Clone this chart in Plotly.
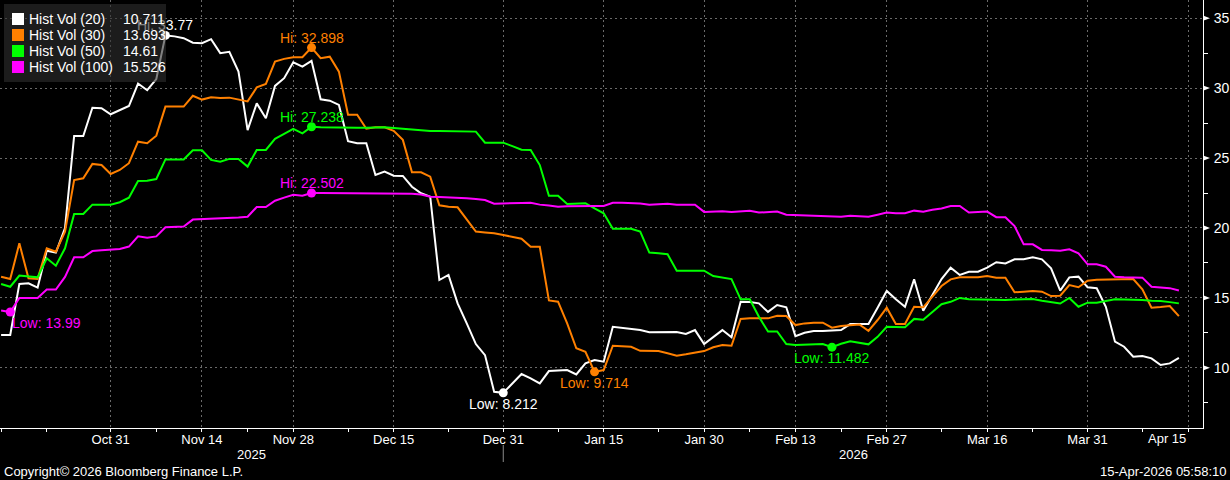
import plotly.graph_objects as go
import pandas as pd

# ---------------- data ----------------
start_date = "2025-10-15"
n_points = 130

hv20 = [12.35, 12.35, 16.0, 16.05, 15.74, 18.38, 18.24, 20.0, 26.58, 26.58,
        28.6, 28.56, 28.13, 28.44, 28.72, 30.33, 29.85, 30.65, 33.77, 33.7,
        33.57, 33.25, 33.21, 33.5, 32.5, 32.6, 31.18, 27.0, 28.91, 27.85,
        30.16, 30.71, 31.85, 31.54, 31.95, 29.2, 29.1, 28.8, 26.2, 26.06,
        26.06, 23.79, 24.03, 23.74, 23.72, 22.95, 22.48, 22.24, 16.28, 16.64,
        14.61, 13.18, 11.7, 10.91, 8.29, 8.212, 8.9, 9.56, 9.25, 8.89,
        9.77, 9.8, 9.84, 9.53, 10.32, 10.56, 10.44, 12.94, 12.85, 12.75,
        12.7, 12.54, 12.54, 12.54, 12.56, 12.42, 12.7, 11.7, 12.22, 12.7,
        12.18, 14.73, 14.7, 14.61, 14.0, 14.49, 14.33, 12.27, 12.51, 12.63,
        12.63, 12.65, 12.7, 13.13, 13.13, 13.13, 14.3, 15.5, 14.9, 14.37,
        16.33, 14.08, 15.2, 16.35, 17.16, 16.64, 16.87, 16.87, 17.16, 17.55,
        17.47, 17.76, 17.76, 17.9, 17.76, 17.12, 15.52, 16.47, 16.52, 15.76,
        15.69, 14.37, 11.87, 11.51, 10.8, 10.84, 10.68, 10.2, 10.32, 10.711]

hv30 = [16.52, 16.35, 18.9, 16.4, 16.35, 18.55, 18.3, 19.74, 23.43, 23.55,
        24.58, 24.5, 23.86, 24.15, 24.63, 26.17, 26.06, 26.6, 28.68, 28.68,
        28.68, 29.45, 29.18, 29.35, 29.3, 29.32, 29.18, 29.05, 30.05, 30.3,
        31.9, 32.09, 32.21, 32.21, 32.898, 32.14, 32.25, 31.18, 28.1, 28.1,
        27.1, 27.2, 27.2, 26.95, 26.3, 23.98, 23.98, 23.67, 21.62, 21.52,
        21.48, 20.57, 19.74, 19.68, 19.62, 19.5, 19.35, 19.23, 18.66, 18.66,
        14.82, 14.73, 13.18, 11.4, 11.15, 9.714, 9.84, 11.58, 11.55, 11.51,
        11.22, 11.2, 11.2, 11.04, 10.87, 10.97, 11.08, 11.2, 11.47, 11.63,
        11.58, 13.49, 13.54, 13.54, 13.54, 13.73, 13.7, 13.06, 13.18, 13.22,
        13.23, 12.87, 13.0, 13.05, 13.1, 12.65, 13.42, 14.3, 13.13, 13.13,
        14.37, 14.33, 15.1, 15.85, 16.33, 16.47, 16.47, 16.47, 16.57, 16.45,
        16.45, 15.4, 15.45, 15.49, 15.45, 15.13, 15.16, 15.92, 15.76, 16.23,
        16.3, 16.3, 16.32, 16.33, 16.35, 15.62, 14.3, 14.35, 14.42, 13.693]

hv50 = [16.0, 15.8, 16.6, 16.55, 16.47, 17.83, 17.3, 18.55, 21.0, 21.0,
        21.67, 21.67, 21.67, 21.84, 22.17, 23.36, 23.38, 23.5, 24.9, 24.9,
        24.9, 25.55, 25.55, 24.87, 24.74, 24.94, 24.94, 24.39, 25.58, 25.58,
        26.37, 26.72, 27.08, 26.77, 27.238, 27.2, 27.18, 27.17, 27.17, 27.17,
        27.17, 27.2, 27.2, 27.15, 27.1, 27.0, 26.96, 26.93, 26.93, 26.92,
        26.9, 26.9, 26.89, 26.1, 26.1, 26.1, 25.85, 25.6, 25.58, 24.5,
        22.3, 22.3, 21.72, 21.75, 21.77, 21.4, 21.05, 19.95, 19.95, 19.95,
        19.74, 18.24, 18.2, 18.12, 16.95, 16.95, 16.95, 16.95, 16.56, 16.45,
        16.35, 14.9, 14.9, 13.65, 12.6, 12.6, 11.7, 11.63, 11.65, 11.72,
        11.7, 11.482, 11.72, 11.9, 11.78, 11.68, 12.22, 12.94, 12.92, 12.9,
        13.5, 13.44, 14.0, 14.55, 14.72, 15.0, 14.9, 14.88, 14.85, 14.85,
        14.85, 14.88, 14.92, 14.92, 14.8, 14.7, 14.6, 15.0, 14.37, 14.66,
        14.66, 14.78, 14.9, 14.88, 14.88, 14.85, 14.8, 14.78, 14.7, 14.61]

hv100 = [14.1, 13.99, 15.0, 15.0, 15.0, 15.6, 15.6, 16.5, 17.9, 17.9,
         18.35, 18.4, 18.43, 18.5, 18.67, 19.4, 19.3, 19.4, 20.05, 20.1,
         20.1, 20.6, 20.62, 20.64, 20.66, 20.7, 20.75, 20.8, 21.5, 21.5,
         21.95, 22.17, 22.38, 22.3, 22.502, 22.5, 22.5, 22.5, 22.5, 22.5,
         22.5, 22.5, 22.5, 22.5, 22.5, 22.45, 22.4, 22.24, 22.22, 22.2,
         22.17, 22.12, 22.07, 22.0, 21.74, 21.74, 21.77, 21.78, 21.8, 21.67,
         21.6, 21.52, 21.55, 21.57, 21.6, 21.58, 21.57, 21.8, 21.8, 21.8,
         21.75, 21.67, 21.7, 21.74, 21.67, 21.67, 21.67, 21.15, 21.17, 21.2,
         21.15, 21.2, 21.23, 21.1, 21.15, 21.17, 20.95, 20.93, 20.9, 20.87,
         20.82, 20.8, 20.8, 20.88, 20.84, 20.8, 20.95, 21.1, 21.05, 21.05,
         21.24, 21.17, 21.3, 21.4, 21.57, 21.57, 21.1, 21.12, 21.17, 20.77,
         20.77, 20.14, 18.83, 18.83, 18.43, 18.4, 18.38, 18.48, 18.19, 17.4,
         17.4, 17.23, 16.52, 16.48, 16.45, 16.45, 15.8, 15.75, 15.7, 15.526]

series_names = ["Hist Vol (20)", "Hist Vol (30)", "Hist Vol (50)", "Hist Vol (100)"]
series_colors = ["#ffffff", "#ff8000", "#00ff00", "#ff00ff"]

tick_dates = ["2025-10-31", "2025-11-14", "2025-11-28", "2025-12-15", "2025-12-31",
              "2026-01-15", "2026-01-30", "2026-02-13", "2026-02-27", "2026-03-16",
              "2026-03-31", "2026-04-15"]
tick_labels = ["Oct 31", "Nov 14", "Nov 28", "Dec 15", "Dec 31", "Jan 15", "Jan 30",
               "Feb 13", "Feb 27", "Mar 16", "Mar 31", "Apr 15"]
minor_dates = ["2025-10-15", "2025-10-22", "2025-11-07", "2025-11-21", "2025-12-08",
               "2025-12-23", "2026-01-08", "2026-01-23", "2026-02-06", "2026-02-20",
               "2026-03-09", "2026-03-23", "2026-04-08"]
year_labels = ["2025", "2026"]
year_break = "2025-12-31"
y_ticks = [10, 15, 20, 25, 30, 35]
y_minor = [7.5, 12.5, 17.5, 22.5, 27.5, 32.5]
x_range = ["2025-10-14 21:07", "2026-04-16 15:22"]
y_range = [5.7, 36.3]

# ---------------- figure ----------------
FONT = "Liberation Sans, Arial, sans-serif"
W, H = 1203.0, 428.0  # plot area in px


def px(x):
    return x / W


def py(y):
    return 1 - y / H


dates = pd.bdate_range(start_date, periods=n_points)
all_series = [hv20, hv30, hv50, hv100]

fig = go.Figure()
for name, col, vals in zip(series_names, series_colors, all_series):
    fig.add_trace(go.Scatter(x=dates, y=vals, mode="lines", name=name,
                             line=dict(color=col, width=2), showlegend=False,
                             hoverinfo="skip"))

annotations = []
shapes = []

# hi / low markers (traces) with labels (annotations, drawn before legend box)
for name, col, vals in zip(series_names, series_colors, all_series):
    imax = max(range(len(vals)), key=lambda i: vals[i])
    imin = min(range(len(vals)), key=lambda i: vals[i])
    fig.add_trace(go.Scatter(
        x=[dates[imax], dates[imin]], y=[vals[imax], vals[imin]], mode="markers",
        marker=dict(color=col, size=9), showlegend=False, hoverinfo="skip",
        cliponaxis=False))
    for idx, kind in ((imax, "Hi"), (imin, "Low")):
        edge = idx < 5
        annotations.append(dict(
            xref="x", yref="y", x=dates[idx], y=vals[idx],
            xanchor="left" if edge else "center", yanchor="middle",
            yshift=10 if kind == "Hi" else -11, showarrow=False,
            text=f"{kind}: {vals[idx]:g}",
            font=dict(color=col, size=14, family=FONT)))

# legend box (semi-transparent, drawn over the labels)
annotations.append(dict(xref="paper", yref="paper", x=px(4), y=py(4),
                        xanchor="left", yanchor="top", showarrow=False,
                        text=" ", width=162, height=78, borderpad=0, borderwidth=0,
                        bgcolor="rgba(47,47,47,0.6)"))
row_y = [19, 35, 51, 67]
for ry, name, col, vals in zip(row_y, series_names, series_colors, all_series):
    annotations.append(dict(xref="paper", yref="paper", x=px(12), y=py(ry),
                            xanchor="left", yanchor="middle", showarrow=False,
                            text=" ", width=12, height=12, borderpad=0, borderwidth=0,
                            bgcolor=col, font=dict(size=8)))
    annotations.append(dict(xref="paper", yref="paper", x=px(27), y=py(ry),
                            xanchor="left", yanchor="middle", showarrow=False,
                            text=name, font=dict(color="white", size=14, family=FONT)))
    annotations.append(dict(xref="paper", yref="paper", x=px(121), y=py(ry),
                            xanchor="left", yanchor="middle", showarrow=False,
                            text=f"{vals[-1]:g}", font=dict(color="white", size=14, family=FONT)))

# y-axis triangle pointers at major ticks
for v in y_ticks:
    shapes.append(dict(type="path", xref="paper", yref="y",
                       path=f"M 1,{v + 0.19} L {1 + 7 / W},{v} L 1,{v - 0.19} Z",
                       fillcolor="white", line=dict(width=0), layer="above"))

# year separator
shapes.append(dict(type="line", xref="x", yref="paper", x0=year_break, x1=year_break,
                   y0=py(445), y1=py(462), line=dict(color="#8a8a8a", width=1)))

# year labels
annotations.append(dict(xref="paper", yref="paper", x=px(251), y=py(454),
                        xanchor="center", yanchor="middle", showarrow=False,
                        text=year_labels[0], font=dict(color="white", size=13, family=FONT)))
annotations.append(dict(xref="paper", yref="paper", x=px(853), y=py(454),
                        xanchor="center", yanchor="middle", showarrow=False,
                        text=year_labels[1], font=dict(color="white", size=13, family=FONT)))
# last tick label right-aligned at its tick
annotations.append(dict(xref="x", yref="paper", x=tick_dates[-1], y=py(438),
                        xanchor="right", yanchor="middle", showarrow=False,
                        text=tick_labels[-1], font=dict(color="white", size=13, family=FONT)))
# footer
annotations.append(dict(xref="paper", yref="paper", x=px(2), y=py(471),
                        xanchor="left", yanchor="middle", showarrow=False,
                        text="Copyright\u00a9 2026 Bloomberg Finance L.P.",
                        font=dict(color="white", size=13, family=FONT)))
annotations.append(dict(xref="paper", yref="paper", x=px(1228), y=py(471),
                        xanchor="right", yanchor="middle", showarrow=False,
                        text="15-Apr-2026 05:58:10",
                        font=dict(color="white", size=13, family=FONT)))

grid_col = "#6a6a6a"
fig.update_layout(
    width=1230, height=480,
    margin=dict(l=0, r=27, t=0, b=52),
    paper_bgcolor="black", plot_bgcolor="black",
    showlegend=False,
    shapes=shapes, annotations=annotations,
    font=dict(family=FONT, color="white", size=13),
    xaxis=dict(
        type="date", range=x_range,
        rangebreaks=[dict(bounds=["sat", "mon"])],
        tickmode="array", tickvals=tick_dates,
        ticktext=tick_labels[:-1] + [""],
        ticks="outside", ticklen=3, tickcolor="white", tickwidth=1,
        showline=True, linecolor="white", linewidth=1,
        showgrid=True, gridcolor=grid_col, griddash="2px,3px", gridwidth=1,
        zeroline=False, ticklabelstandoff=-4,
        tickfont=dict(color="white", size=13, family=FONT),
        minor=dict(tickmode="array", tickvals=minor_dates, ticks="outside",
                   ticklen=3, tickcolor="white", showgrid=False),
    ),
    yaxis=dict(
        side="right", range=y_range,
        tickmode="array", tickvals=y_ticks,
        ticks="", showline=True, linecolor="white", linewidth=1,
        showgrid=True, gridcolor=grid_col, griddash="2px,3px", gridwidth=1,
        zeroline=False, ticklabelstandoff=7,
        tickfont=dict(color="white", size=14, family=FONT),
        minor=dict(tickmode="array", tickvals=y_minor, ticks="outside",
                   ticklen=4, tickcolor="white", showgrid=False),
    ),
)

fig.write_html("out.html")
